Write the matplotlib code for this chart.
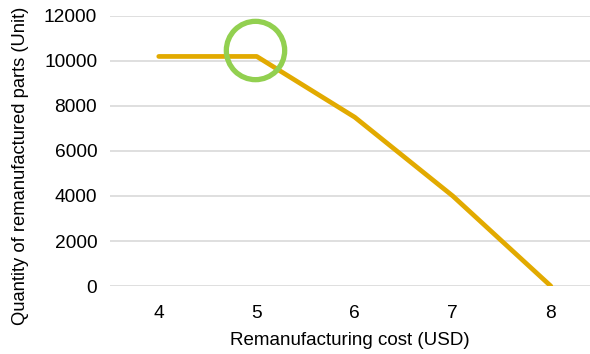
import matplotlib
matplotlib.use("Agg")
import matplotlib.pyplot as plt

plt.rcParams['font.family'] = ['Liberation Sans', 'DejaVu Sans']

# data
costs = [4, 5, 6, 7, 8]
quantities = [10200, 10200, 7500, 4000, 0]
highlight_cost = 4.98
highlight_qty = 10480

fig = plt.figure(figsize=(5.9, 3.54), dpi=100)
ax = fig.add_axes([0.186, 0.192, 0.814, 0.763])

ax.plot(costs, quantities, color='#E2AA00', linewidth=3.4, solid_capstyle='round', zorder=3)
ax.plot([highlight_cost], [highlight_qty], marker='o', markersize=42, markerfacecolor='none',
        markeredgecolor='#92D050', markeredgewidth=3.8, zorder=4)

ax.set_xlim(3.5, 8.4)
ax.set_ylim(0, 12000)
ax.set_xticks(costs)
ax.set_yticks(range(0, 12001, 2000))
ax.grid(axis='y', color='#D9D9D9', linewidth=1.2)
ax.set_axisbelow(True)
for s in ax.spines.values():
    s.set_visible(False)
ax.tick_params(length=0, labelsize=13.8, pad=14)
ax.tick_params(axis='y', pad=9)

ax.set_xlabel('Remanufacturing cost (USD)', fontsize=13.5, va='center')
ax.set_ylabel('Quantity of remanufactured parts (Unit)', fontsize=13.2, va='center')
ax.xaxis.set_label_coords(0.5, -0.2)
ax.yaxis.set_label_coords(-0.185, 0.444)

fig.savefig('out.png', dpi=100)
